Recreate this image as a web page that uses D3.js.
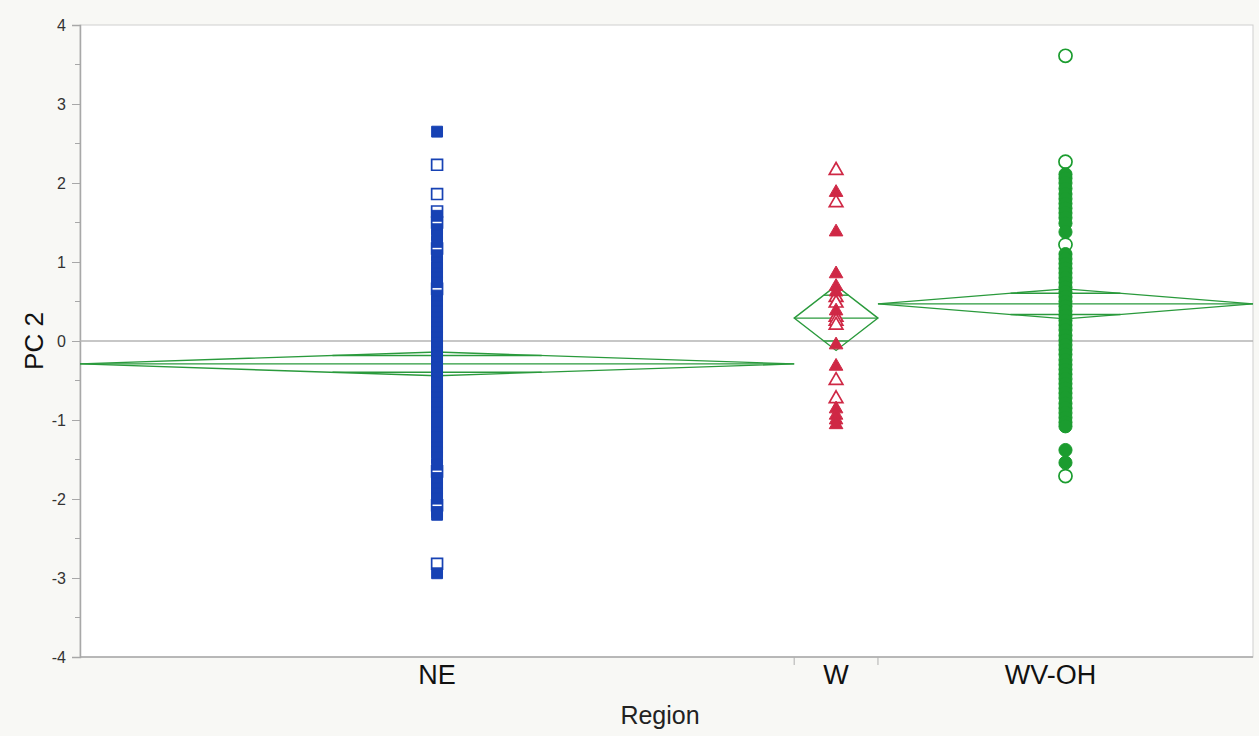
<!DOCTYPE html>
<html>
<head>
<meta charset="utf-8">
<script src="https://cdn.jsdelivr.net/npm/d3@7"></script>
<style>
body { margin: 0; background: #f8f8f5; }
text { font-family: "Liberation Sans", Arial, sans-serif; }
</style>
</head>
<body>
<svg id="chart" width="1259" height="736"></svg>
<script>
// groups, sample sizes (read from the proportional widths) and means diamonds
const regions = ['NE', 'W', 'WV-OH'];
const groupCounts = [179, 21, 94];
const groupMeans = [-0.29, 0.29, 0.47];
const groupCI = [0.15, 0.41, 0.19];
const grandMean = 0;
const yTicks = [-4, -3, -2, -1, 0, 1, 2, 3, 4];
const yMinorTicks = [-3.5, -2.5, -1.5, -0.5, 0.5, 1.5, 2.5, 3.5];

// PC 2 values per region, open and filled markers
const neOpen = [2.23, 1.86, 1.64, 1.50, 1.17, 0.66, -1.65, -2.08, -2.82];
const neFilled = [2.65, 1.585, 1.415, 1.34, 1.255, 1.085, 1.00, 0.93, 0.86, 0.80, 0.745,
	0.575, 0.50, 0.44, 0.37, 0.30, 0.24, 0.17, 0.11, 0.05, -0.02, -0.08, -0.14, -0.20,
	-0.27, -0.33, -0.39, -0.46, -0.52, -0.58, -0.65, -0.71, -0.78, -0.84, -0.90, -0.97,
	-1.03, -1.10, -1.16, -1.22, -1.29, -1.35, -1.41, -1.48, -1.565, -1.735, -1.80, -1.87,
	-1.93, -1.995, -2.165, -2.20, -2.94];

const wOpen = [2.16, 1.75, 0.55, 0.48, 0.30, 0.25, 0.20, -0.50, -0.73];
const wFilled = [1.88, 1.38, 0.85, 0.69, 0.62, 0.38, -0.05, -0.32, -0.86, -0.94, -1.00, -1.06];

const wvOpen = [3.61, 2.27, 1.22, -1.71];
const wvFilled = [2.11, 2.06, 2.00, 1.93, 1.86, 1.80, 1.74, 1.68, 1.62, 1.56, 1.49, 1.38,
	1.10, 1.04, 0.98, 0.92, 0.86, 0.80, 0.74, 0.68, 0.62, 0.56, 0.50, 0.44, 0.38, 0.32,
	0.26, 0.20, 0.14, 0.07, 0.01, -0.05, -0.11, -0.17, -0.24, -0.30, -0.36, -0.42, -0.48,
	-0.54, -0.60, -0.66, -0.72, -0.79, -0.85, -0.91, -0.97, -1.03, -1.08, -1.38, -1.54];

const colors = ['#1742b4', '#cf2845', '#1b9c2f'];
const symbols = [d3.symbolSquare, d3.symbolTriangle, d3.symbolCircle];
const symbolSizes = [118, 80, 135];
const labelShift = [0, 0, -15];
const pointSets = [
	{open: neOpen, filled: neFilled},
	{open: wOpen, filled: wFilled},
	{open: wvOpen, filled: wvFilled}
];

const plotLeft = 80, plotRight = 1253, plotTop = 25, plotBottom = 657;

let svg = d3.select('#chart');

let y = d3.scaleLinear().domain([-4, 4]).range([plotBottom, plotTop]);

let total = d3.sum(groupCounts);
let x = d3.scaleLinear().domain([0, total]).range([plotLeft, plotRight]);
let cum = d3.cumsum(groupCounts);
let bands = regions.map((r, i) => {
	let x0 = x(i == 0 ? 0 : cum[i - 1]);
	let x1 = x(cum[i]);
	return {name: r, x0: x0, x1: x1, cx: (x0 + x1) / 2, i: i};
});

// plot area
svg.append('rect')
	.attr('x', plotLeft)
	.attr('y', plotTop)
	.attr('width', plotRight - plotLeft)
	.attr('height', plotBottom - plotTop)
	.style('fill', '#ffffff')
	.style('stroke', '#cfcfcf')
	.style('stroke-width', 1);

// y axis
let yAxis = d3.axisLeft(y)
	.tickValues(yTicks)
	.tickSize(8)
	.tickPadding(6)
	.tickFormat(d => String(d));

let yg = svg.append('g')
	.attr('transform', 'translate(' + plotLeft + ',0)')
	.call(yAxis);

yg.select('.domain').style('stroke', '#a8a8a8').style('stroke-width', 1.5);
yg.selectAll('.tick line').style('stroke', '#a8a8a8');
yg.selectAll('.tick text')
	.style('font-size', '16px')
	.style('fill', '#333')
	.style('font-family', '"Liberation Sans", Arial, sans-serif');

svg.append('g')
	.selectAll('line')
	.data(yMinorTicks)
	.enter()
	.append('line')
	.attr('x1', plotLeft - 5)
	.attr('x2', plotLeft)
	.attr('y1', d => y(d))
	.attr('y2', d => y(d))
	.style('stroke', '#a8a8a8');

// x axis
svg.append('line')
	.attr('x1', plotLeft)
	.attr('x2', plotRight)
	.attr('y1', plotBottom)
	.attr('y2', plotBottom)
	.style('stroke', '#a8a8a8')
	.style('stroke-width', 1.5);

svg.append('g')
	.selectAll('line')
	.data(bands.slice(1))
	.enter()
	.append('line')
	.attr('x1', d => d.x0)
	.attr('x2', d => d.x0)
	.attr('y1', plotBottom)
	.attr('y2', plotBottom + 8)
	.style('stroke', '#b0b0b0');

svg.append('g')
	.selectAll('text')
	.data(bands)
	.enter()
	.append('text')
	.attr('x', d => d.cx + labelShift[d.i])
	.attr('y', 684)
	.attr('text-anchor', 'middle')
	.style('font-size', '27px')
	.style('fill', '#111')
	.text(d => d.name);

svg.append('text')
	.attr('x', 660)
	.attr('y', 724)
	.attr('text-anchor', 'middle')
	.style('font-size', '25px')
	.style('fill', '#222')
	.text('Region');

svg.append('text')
	.attr('transform', 'translate(43,' + y(0) + ') rotate(-90)')
	.attr('text-anchor', 'middle')
	.style('font-size', '26px')
	.style('fill', '#111')
	.text('PC 2');

// grand mean line
svg.append('line')
	.attr('x1', plotLeft)
	.attr('x2', plotRight)
	.attr('y1', y(grandMean))
	.attr('y2', y(grandMean))
	.style('stroke', '#b4b4b4')
	.style('stroke-width', 1.5);

// means diamonds
let dia = svg.append('g')
	.selectAll('g')
	.data(bands)
	.enter()
	.append('g')
	.style('stroke', '#2a9a3c')
	.style('stroke-width', 1.4)
	.style('fill', 'none');

dia.append('polygon')
	.attr('points', d => {
		let m = groupMeans[d.i], c = groupCI[d.i];
		return [[d.x0, y(m)], [d.cx, y(m + c)], [d.x1, y(m)], [d.cx, y(m - c)]]
			.map(p => p.join(',')).join(' ');
	});

dia.append('line')
	.attr('x1', d => d.x0)
	.attr('x2', d => d.x1)
	.attr('y1', d => y(groupMeans[d.i]))
	.attr('y2', d => y(groupMeans[d.i]));

[1, -1].forEach(s => {
	dia.append('line')
		.attr('x1', d => d.cx - (d.cx - d.x0) * (1 - Math.SQRT1_2))
		.attr('x2', d => d.cx + (d.cx - d.x0) * (1 - Math.SQRT1_2))
		.attr('y1', d => y(groupMeans[d.i] + s * groupCI[d.i] * Math.SQRT1_2))
		.attr('y2', d => y(groupMeans[d.i] + s * groupCI[d.i] * Math.SQRT1_2));
});

// points
bands.forEach(b => {
	let g = svg.append('g');
	let sym = d3.symbol().type(symbols[b.i]).size(symbolSizes[b.i]);

	g.selectAll('path.open')
		.data(pointSets[b.i].open)
		.enter()
		.append('path')
		.attr('class', 'open')
		.attr('d', sym)
		.attr('transform', d => 'translate(' + b.cx + ',' + y(d) + ')')
		.style('fill', '#ffffff')
		.style('stroke', colors[b.i])
		.style('stroke-width', 1.7);

	g.selectAll('path.filled')
		.data(pointSets[b.i].filled)
		.enter()
		.append('path')
		.attr('class', 'filled')
		.attr('d', sym)
		.attr('transform', d => 'translate(' + b.cx + ',' + y(d) + ')')
		.style('fill', colors[b.i])
		.style('stroke', colors[b.i])
		.style('stroke-width', 1);
});
</script>
</body>
</html>
